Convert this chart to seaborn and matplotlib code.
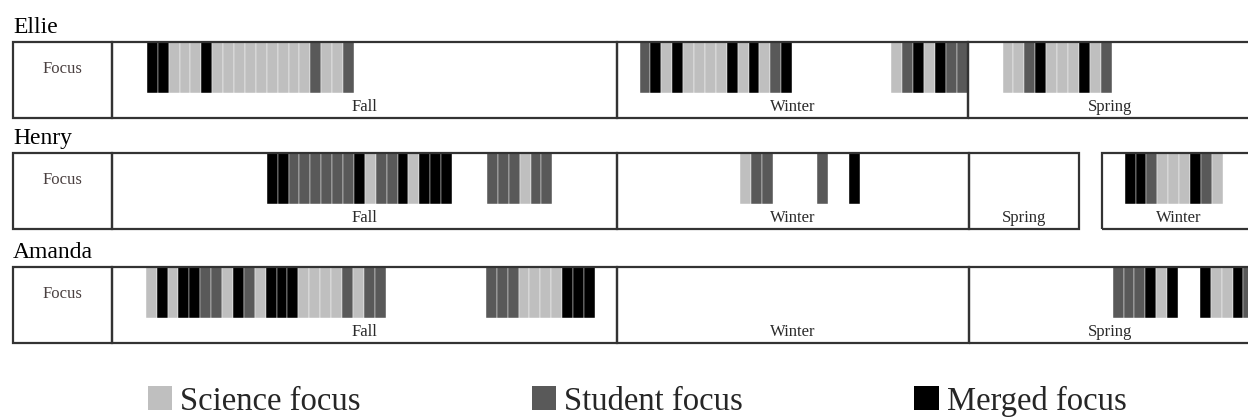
import matplotlib
matplotlib.use('Agg')
import matplotlib.pyplot as plt
from matplotlib.patches import Rectangle, Patch
import seaborn as sns

# one letter per session: S = science focus, T = student focus, M = merged focus
# x axis counts sessions from the start of Fall
students = ['Ellie', 'Henry', 'Amanda']

ellie_starts = [3.2, 48.4, 71.5, 81.7]
ellie_codes = ['MMSSSMSSSSSSSSSTSST', 'TMSMSSSSMSMSTM', 'STMSMTT', 'SSTMSSSMST']
ellie_terms = ['Fall', 'Winter', 'Spring']
ellie_bounds = [(0, 46.33), (46.33, 78.53), (78.53, 104.6)]

henry_starts = [14.2, 34.4, 57.6, 64.7, 67.6, 92.9]
henry_codes = ['MMTTTTTTMSTTMSMMM', 'TTTSTT', 'STT', 'T', 'M', 'MMTSSSMTS']
henry_terms = ['Fall', 'Winter', 'Spring', 'Winter']
henry_bounds = [(0, 46.33), (46.33, 78.6), (78.6, 88.7), (90.8, 105.0)]

amanda_starts = [3.1, 34.3, 91.8, 99.8]
amanda_codes = ['SMSMMTTSMTSMMMSSSSTSTT', 'TTTSSSSMMM', 'TTTMSM', 'MSSMT']
amanda_terms = ['Fall', 'Winter', 'Spring']
amanda_bounds = [(0, 46.33), (46.33, 78.6), (78.6, 104.6)]

focus_keys = ['S', 'T', 'M']
focus_labels = ['Science focus', 'Student focus', 'Merged focus']
focus_colors = {'S': '#bfbfbf', 'T': '#595959', 'M': '#000000'}

rows = [
    (ellie_starts, ellie_codes, ellie_terms, ellie_bounds),
    (henry_starts, henry_codes, henry_terms, henry_bounds),
    (amanda_starts, amanda_codes, amanda_terms, amanda_bounds),
]

sns.set_style('white')
plt.rcParams['font.family'] = ['Liberation Serif', 'DejaVu Serif']

W, H = 1248, 417
fig = plt.figure(figsize=(W / 100, H / 100), dpi=100)

slot = 10.9          # pixels per session
origin = 112         # pixel where Fall starts
left_px, right_px = 13, 1256
row_tops = [42, 153, 267]
row_h = 76
box_col = '#333333'

for name, top, (starts, codes, terms, bounds) in zip(students, row_tops, rows):
    ax = fig.add_axes([left_px / W, 1 - (top + row_h) / H,
                       (right_px - left_px) / W, row_h / H])
    ax.set_xlim((left_px - origin) / slot, (right_px - origin) / slot)
    ax.set_ylim(0, 1)
    ax.axis('off')

    # session bars
    xs, cols = [], []
    for s, c in zip(starts, codes):
        for i, k in enumerate(c):
            xs.append(s + i)
            cols.append(focus_colors[k])
    ax.bar(xs, 0.67, bottom=0.33, width=1, align='edge', color=cols,
           edgecolor='white', linewidth=0.3, zorder=2)

    # label cell and term boxes
    x0 = (left_px - origin) / slot
    ax.add_patch(Rectangle((x0, 0), -x0, 1, fill=False, edgecolor=box_col,
                           linewidth=1.6, clip_on=False, zorder=3))
    ax.text(x0 / 2, 0.64, 'Focus', ha='center', va='center',
            fontsize=12, color='#4a4040')
    for term, (a, b) in zip(terms, bounds):
        ax.add_patch(Rectangle((a, 0), b - a, 1, fill=False, edgecolor=box_col,
                               linewidth=1.6, clip_on=False, zorder=3))
        ax.text((a + b) / 2, 0.14, term, ha='center', va='center',
                fontsize=12, color='#2a2a2a')

    ax.text(0, 1.12, name, transform=ax.transAxes, ha='left', va='baseline',
            fontsize=17, color='black')

handles = [Patch(facecolor=focus_colors[k], edgecolor='none') for k in focus_keys]
fig.legend(handles, focus_labels, loc='center', bbox_to_anchor=(0.5105, 1 - 401 / H),
           ncol=3, frameon=False, fontsize=23.5, handlelength=0.74, handleheight=0.74,
           handletextpad=0.25, columnspacing=5.25)

fig.savefig('out.png', dpi=100)
